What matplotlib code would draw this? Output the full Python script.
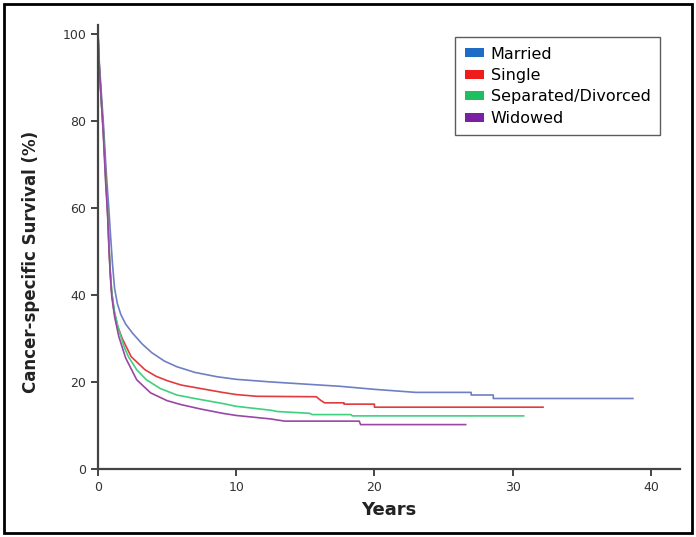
import matplotlib.pyplot as plt
from matplotlib.patches import Patch, Rectangle

# survival curves (years, %)
married_t = [0, 0.1, 0.25, 0.4, 0.6, 0.78, 0.9, 1.05, 1.2, 1.4, 1.65, 2.0, 2.5, 3.2, 3.9, 4.8, 5.7,
             7, 8.6, 10, 12.5, 15, 17.5, 20, 23, 27, 27, 28.6, 28.6, 38.7]
married_s = [100, 93, 86, 79, 68, 60, 54, 47, 41.5, 38, 35.5, 33.3, 31.2, 28.7, 26.7, 24.8, 23.5,
             22.2, 21.2, 20.6, 20.0, 19.5, 19.0, 18.3, 17.6, 17.6, 17.0, 17.0, 16.2, 16.2]

single_t = [0, 0.1, 0.25, 0.38, 0.55, 0.68, 0.8, 0.88, 0.98, 1.15, 1.4, 1.75, 2.4, 3.4, 4.2, 5.0, 6,
            7.4, 9, 10, 11.5, 15.8, 16.1, 16.4, 17.8, 17.8, 20, 20, 32.2]
single_s = [100, 92, 84, 78, 68, 60, 51, 45.5, 41, 36.5, 33, 30, 25.8, 22.8, 21.3, 20.3, 19.3,
            18.5, 17.6, 17.1, 16.7, 16.6, 15.8, 15.2, 15.2, 14.9, 14.9, 14.2, 14.2]

sep_t = [0, 0.1, 0.25, 0.38, 0.55, 0.7, 0.8, 0.9, 1.0, 1.2, 1.5, 1.9, 2.2, 2.8, 3.5, 4.5, 5.7, 7,
         9.1, 10, 12.5, 13, 15.3, 15.5, 18.3, 18.4, 30.8]
sep_s = [100, 92, 84, 78, 67, 59, 51, 45, 40.5, 36, 32, 28, 25.8, 22.8, 20.5, 18.5, 17.0, 16.2,
         15.0, 14.4, 13.5, 13.2, 12.8, 12.5, 12.5, 12.2, 12.2]

wid_t = [0, 0.1, 0.25, 0.38, 0.55, 0.7, 0.8, 0.9, 1.0, 1.2, 1.5, 2.0, 2.8, 3.8, 5.0, 6, 7.4, 9, 10,
         12.5, 13.5, 18.9, 19, 26.6]
wid_s = [100, 92, 84, 77, 66, 58, 50, 44, 39.5, 35, 30.5, 25.5, 20.5, 17.5, 15.7, 14.8, 13.8, 12.8,
         12.3, 11.5, 11.0, 11.0, 10.2, 10.2]

labels = ['Married', 'Single', 'Separated/Divorced', 'Widowed']
line_colors = ['#6f7fc4', '#e23a3f', '#3fd07f', '#9a46a4']
patch_colors = ['#1f6cc6', '#f01c1c', '#1fbf60', '#7a20a3']

fig = plt.figure(figsize=(6.96, 5.37), dpi=100)
ax = fig.add_axes([0.1408, 0.1266, 0.836, 0.827])

curves = [(married_t, married_s), (single_t, single_s), (sep_t, sep_s), (wid_t, wid_s)]
for (t, s), c in zip(curves, line_colors):
    ax.plot(t, s, color=c, lw=1.2)

ax.set_xlim(0, 42.1)
ax.set_ylim(0, 102)
ax.set_xticks([0, 10, 20, 30, 40])
ax.set_yticks([0, 20, 40, 60, 80, 100])
for sp in ['top', 'right']:
    ax.spines[sp].set_visible(False)
for sp in ['left', 'bottom']:
    ax.spines[sp].set_color('#444444')
    ax.spines[sp].set_linewidth(1.6)
ax.tick_params(direction='out', length=5, width=1.4, color='#444444',
               labelsize=9, labelcolor='#333333')

ax.set_xlabel('Years', fontsize=13, fontweight='bold', color='#222222', labelpad=5)
ax.set_ylabel('Cancer-specific Survival (%)', fontsize=12, fontweight='bold', color='#222222')
ax.yaxis.set_label_coords(-0.1, 0.466)

handles = [Patch(facecolor=c, edgecolor='none') for c in patch_colors]
leg = ax.legend(handles, labels, loc='upper right', bbox_to_anchor=(660 / 696, 1 - 37 / 537),
                bbox_transform=fig.transFigure, borderaxespad=0, fontsize=11.5, frameon=True,
                fancybox=False, handlelength=1.2, handleheight=0.5, handletextpad=0.4,
                labelspacing=0.4, borderpad=0.6)
leg.get_frame().set_edgecolor('#333333')
leg.get_frame().set_linewidth(1.0)

# outer frame around the whole picture
fig.patches.append(Rectangle((0.006, 0.008), 0.988, 0.984, transform=fig.transFigure,
                             fill=False, edgecolor='black', linewidth=2))

fig.savefig('out.png', dpi=100)
